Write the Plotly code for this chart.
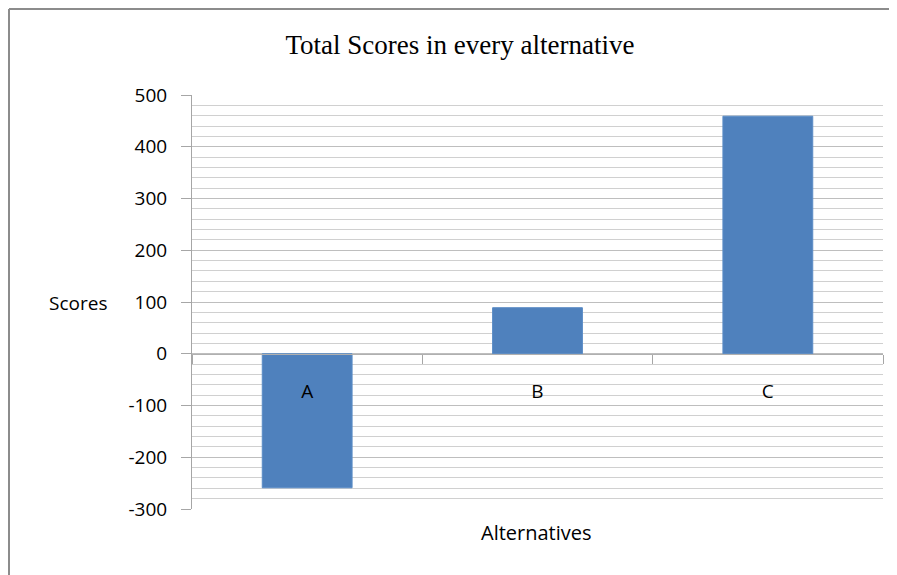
import plotly.graph_objects as go

categories = ["A", "B", "C"]
scores = [-259, 89, 459]
y_tick_vals = [-300, -200, -100, 0, 100, 200, 300, 400, 500]
y_tick_text = ["-300", "-200", "-100", "0", "100", "200", "300", "400", "500"]

OFF = 8  # default page body margin
W, H = 897 - OFF, 575 - OFF
# target pixel positions in the 897x575 window
PL, PR, PT, PB = 192, 883, 95, 509
L, T = PL - OFF, PT - OFF
R = W - (PR - OFF)
B = H - (PB - OFF)
ymin, ymax = -300, 500
zero_pos = (0 - ymin) / (ymax - ymin)

FONT = "Open Sans, Lato, sans-serif"

fig = go.Figure()
fig.add_trace(go.Bar(
    x=categories, y=scores,
    marker=dict(color="#4F81BD", line=dict(color="#5B8CC6", width=1)),
    width=0.39,
))

px = lambda v: (v - PL) / (PR - PL)
py = lambda v: (PB - v) / (PB - PT)

fig.update_layout(
    width=W, height=H,
    margin=dict(l=L, r=R, t=T, b=B),
    paper_bgcolor="white", plot_bgcolor="white",
    showlegend=False,
    font=dict(family=FONT, size=19, color="#000000"),
    title=dict(text="Total Scores in every alternative", x=(460 - OFF) / W, xanchor="center",
               y=1 - (45 - OFF) / H, yanchor="middle",
               font=dict(family="Liberation Serif, serif", size=27, color="#000000")),
    xaxis=dict(
        anchor="free", position=zero_pos,
        showline=True, linecolor="#B0B0B0", linewidth=1,
        ticks="outside", tickson="boundaries", ticklen=9, tickcolor="#A6A6A6",
        ticklabelstandoff=20,
        showgrid=False, zeroline=False,
        tickfont=dict(family=FONT, size=19, color="#000000"),
        range=[-0.5, 2.5],
    ),
    yaxis=dict(
        range=[ymin, ymax],
        tickvals=y_tick_vals, ticktext=y_tick_text,
        showline=True, linecolor="#A6A6A6", linewidth=1,
        ticks="outside", ticklen=10, tickcolor="#A6A6A6",
        ticklabelstandoff=10,
        showgrid=True, gridcolor="#BEBEBE", gridwidth=1,
        minor=dict(dtick=20, showgrid=True, gridcolor="#D0D0D0", gridwidth=1, ticks=""),
        zeroline=False,
        tickfont=dict(family=FONT, size=19, color="#000000"),
    ),
    bargap=0.61,
)

fig.add_annotation(text="Scores", xref="paper", yref="paper",
                   x=px(78), y=py(303),
                   showarrow=False, xanchor="center", yanchor="middle",
                   font=dict(family=FONT, size=19, color="#000000"))
fig.add_annotation(text="Alternatives", xref="paper", yref="paper",
                   x=px(536), y=py(532),
                   showarrow=False, xanchor="center", yanchor="middle",
                   font=dict(family=FONT, size=20, color="#000000"))

# outer chart frame
fig.add_shape(type="line", xref="paper", yref="paper", x0=px(9), x1=px(900), y0=py(9), y1=py(9),
              line=dict(color="#8C8C8C", width=2))
fig.add_shape(type="line", xref="paper", yref="paper", x0=px(9), x1=px(9), y0=py(9), y1=py(580),
              line=dict(color="#8C8C8C", width=2))

fig.write_html("out.html")
